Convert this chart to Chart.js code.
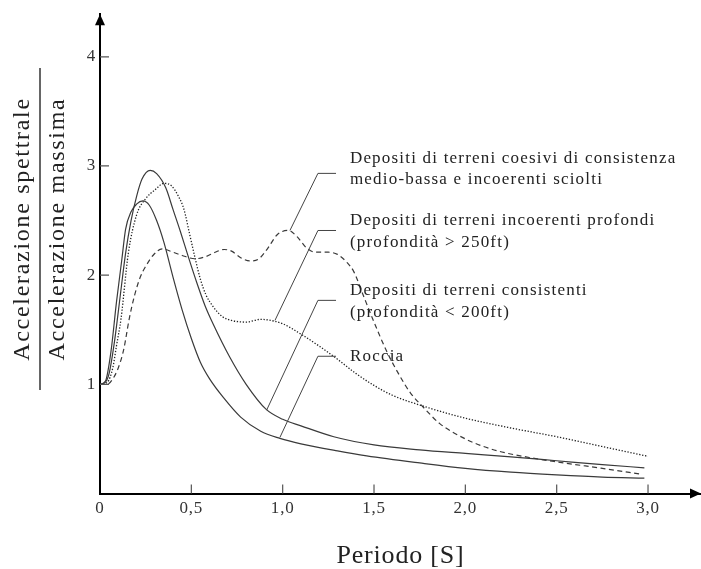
<!DOCTYPE html>
<html>
<head>
<meta charset="utf-8">
<script src="https://cdn.jsdelivr.net/npm/chart.js@4.4.1/dist/chart.umd.min.js"></script>
<style>
  html, body { margin: 0; padding: 0; background: #fff; }
</style>
</head>
<body>
<canvas id="spettro" width="701" height="569"></canvas>
<script>
// Valori: periodo [s] e accelerazione spettrale / accelerazione massima
const rocciaT  = [0, 0.03, 0.06, 0.09, 0.12, 0.14, 0.17, 0.2, 0.235, 0.27, 0.31, 0.35, 0.4, 0.45, 0.5, 0.55, 0.6, 0.675, 0.77, 0.88, 0.985, 1.1, 1.3, 1.46, 1.75, 2.0, 2.25, 2.5, 2.75, 2.98];
const rocciaSa = [1.0, 1.03, 1.3, 1.75, 2.15, 2.42, 2.58, 2.65, 2.68, 2.64, 2.5, 2.3, 1.98, 1.68, 1.42, 1.2, 1.05, 0.88, 0.7, 0.57, 0.505, 0.455, 0.39, 0.345, 0.28, 0.23, 0.195, 0.17, 0.15, 0.14];

const consistentiT  = [0, 0.03, 0.05, 0.08, 0.11, 0.14, 0.17, 0.2, 0.23, 0.275, 0.31, 0.36, 0.4, 0.44, 0.485, 0.53, 0.575, 0.62, 0.71, 0.8, 0.91, 1.0, 1.1, 1.28, 1.5, 1.75, 2.0, 2.25, 2.5, 2.75, 2.98];
const consistentiSa = [1.0, 1.02, 1.1, 1.4, 1.8, 2.2, 2.5, 2.72, 2.88, 2.96, 2.93, 2.8, 2.6, 2.4, 2.16, 1.93, 1.72, 1.55, 1.25, 1.0, 0.77, 0.68, 0.62, 0.52, 0.445, 0.4, 0.367, 0.335, 0.3, 0.265, 0.235];

const profondiT  = [0, 0.04, 0.07, 0.09, 0.115, 0.155, 0.2, 0.25, 0.3, 0.35, 0.39, 0.43, 0.46, 0.49, 0.52, 0.55, 0.58, 0.62, 0.67, 0.72, 0.8, 0.88, 0.95, 1.0, 1.1, 1.2, 1.3, 1.4, 1.5, 1.6, 1.77, 2.0, 2.25, 2.5, 2.75, 3.0];
const profondiSa = [1.0, 1.02, 1.15, 1.35, 1.6, 2.2, 2.55, 2.7, 2.78, 2.84, 2.82, 2.72, 2.6, 2.38, 2.16, 1.96, 1.82, 1.71, 1.62, 1.585, 1.57, 1.595, 1.58, 1.555, 1.46, 1.35, 1.23, 1.1, 0.99, 0.9, 0.8, 0.69, 0.6, 0.52, 0.43, 0.34];

const coesiviT  = [0, 0.04, 0.07, 0.1, 0.13, 0.16, 0.19, 0.22, 0.25, 0.29, 0.34, 0.4, 0.45, 0.52, 0.58, 0.63, 0.68, 0.72, 0.77, 0.82, 0.87, 0.92, 0.97, 1.03, 1.08, 1.13, 1.18, 1.25, 1.3, 1.35, 1.39, 1.44, 1.5, 1.57, 1.64, 1.7, 1.77, 1.86, 2.0, 2.1, 2.2, 2.35, 2.5, 2.75, 2.97];
const coesiviSa = [1.0, 1.0, 1.05, 1.15, 1.32, 1.6, 1.82, 1.98, 2.08, 2.18, 2.24, 2.21, 2.18, 2.15, 2.17, 2.21, 2.235, 2.22, 2.16, 2.13, 2.15, 2.25, 2.37, 2.41, 2.35, 2.25, 2.21, 2.21, 2.19, 2.12, 2.03, 1.82, 1.57, 1.3, 1.08, 0.92, 0.79, 0.64, 0.5, 0.43, 0.38, 0.33, 0.29, 0.23, 0.175];

// etichette dei tick
const xTickLabels = ['0', '0,5', '1,0', '1,5', '2,0', '2,5', '3,0'];
const yTickLabels = ['', '1', '2', '3', '4'];

const serif = '"Liberation Serif", "Times New Roman", serif';
const inkLine = '#3a3a3a';

// richiami con didascalia (coordinate nelle unità del grafico)
const richiami = [
  { righe: ['Depositi di terreni coesivi di consistenza', 'medio-bassa e incoerenti sciolti'], righeY: [3.064, 2.872], punto: [1.04, 2.41], gomitoY: 2.932 },
  { righe: ['Depositi di terreni incoerenti profondi', '(profondità > 250ft)'], righeY: [2.50, 2.302], punto: [0.958, 1.586], gomitoY: 2.409 },
  { righe: ['Depositi di terreni consistenti', '(profondità < 200ft)'], righeY: [1.86, 1.662], punto: [0.912, 0.763], gomitoY: 1.769 },
  { righe: ['Roccia'], righeY: [1.257], punto: [0.985, 0.514], gomitoY: 1.257 }
];
const gomitoX = 1.193, fineRichiamoX = 1.292, testoX = 1.368;

function toPoints(ts, vals) {
  return ts.map((t, i) => ({ x: t, y: vals[i] }));
}

const extras = {
  id: 'extras',
  beforeDraw(chart) {
    // spaziatura larga come nel disegno originale
    chart.ctx.letterSpacing = '0.8px';
  },
  afterDraw(chart) {
    const ctx = chart.ctx;
    const xs = chart.scales.x, ys = chart.scales.y;
    const area = chart.chartArea;
    ctx.save();

    // tick interni
    ctx.strokeStyle = '#555';
    ctx.lineWidth = 1.2;
    ctx.beginPath();
    xs.ticks.forEach(t => {
      if (t.value <= 0) return;
      const px = xs.getPixelForValue(t.value);
      ctx.moveTo(px, area.bottom);
      ctx.lineTo(px, area.bottom - 9);
    });
    ys.ticks.forEach(t => {
      if (t.value <= 0) return;
      const py = ys.getPixelForValue(t.value);
      ctx.moveTo(area.left, py);
      ctx.lineTo(area.left + 9, py);
    });
    ctx.stroke();

    // frecce degli assi
    ctx.fillStyle = '#000';
    ctx.beginPath();
    ctx.moveTo(area.left, area.top);
    ctx.lineTo(area.left - 5, area.top + 11);
    ctx.lineTo(area.left + 5, area.top + 11);
    ctx.closePath();
    ctx.fill();
    ctx.beginPath();
    ctx.moveTo(area.right, area.bottom);
    ctx.lineTo(area.right - 11, area.bottom - 5);
    ctx.lineTo(area.right - 11, area.bottom + 5);
    ctx.closePath();
    ctx.fill();

    // richiami
    ctx.strokeStyle = '#444';
    ctx.lineWidth = 1;
    ctx.fillStyle = '#222';
    ctx.font = '17px ' + serif;
    ctx.letterSpacing = '1.2px';
    ctx.textBaseline = 'middle';
    ctx.textAlign = 'left';
    richiami.forEach(r => {
      const gy = ys.getPixelForValue(r.gomitoY);
      ctx.beginPath();
      ctx.moveTo(xs.getPixelForValue(r.punto[0]), ys.getPixelForValue(r.punto[1]));
      ctx.lineTo(xs.getPixelForValue(gomitoX), gy);
      ctx.lineTo(xs.getPixelForValue(fineRichiamoX), gy);
      ctx.stroke();
      r.righe.forEach((riga, i) => {
        ctx.fillText(riga, xs.getPixelForValue(testoX), ys.getPixelForValue(r.righeY[i]));
      });
    });

    // titolo asse y come frazione
    ctx.translate(0, 229);
    ctx.rotate(-Math.PI / 2);
    ctx.font = '24px ' + serif;
    ctx.letterSpacing = '1.7px';
    ctx.textAlign = 'center';
    ctx.fillStyle = '#222';
    ctx.fillText('Accelerazione spettrale', 0, 23);
    ctx.fillText('Accelerazione massima', 0, 58);
    ctx.strokeStyle = '#333';
    ctx.lineWidth = 1.5;
    ctx.beginPath();
    ctx.moveTo(-161, 40);
    ctx.lineTo(161, 40);
    ctx.stroke();

    ctx.restore();
  }
};

const curveStyle = { borderColor: inkLine, borderWidth: 1.2, pointRadius: 0, fill: false, cubicInterpolationMode: 'monotone' };

new Chart(document.getElementById('spettro'), {
  type: 'line',
  data: {
    datasets: [
      Object.assign({ label: 'Roccia', data: toPoints(rocciaT, rocciaSa) }, curveStyle),
      Object.assign({ label: 'Depositi di terreni consistenti', data: toPoints(consistentiT, consistentiSa) }, curveStyle),
      Object.assign({ label: 'Depositi di terreni incoerenti profondi', data: toPoints(profondiT, profondiSa) }, curveStyle, { borderDash: [1.3, 1.7], borderWidth: 1.3, borderColor: '#222' }),
      Object.assign({ label: 'Depositi di terreni coesivi', data: toPoints(coesiviT, coesiviSa) }, curveStyle, { borderDash: [5, 3.5] })
    ]
  },
  options: {
    responsive: false,
    animation: false,
    devicePixelRatio: 1,
    layout: { padding: { top: 13, right: 0, left: 0, bottom: 0 } },
    plugins: { legend: { display: false }, tooltip: { enabled: false } },
    scales: {
      x: {
        type: 'linear',
        min: 0,
        max: 3.29,
        grid: { display: false, drawTicks: false },
        border: { display: true, color: '#000', width: 2 },
        ticks: {
          stepSize: 0.5,
          includeBounds: false,
          maxRotation: 0,
          padding: 5,
          color: '#333',
          font: { family: serif, size: 17 },
          callback: (v) => xTickLabels[Math.round(v * 2)]
        },
        title: {
          display: true,
          text: 'Periodo [S]',
          color: '#222',
          font: { family: serif, size: 26, lineHeight: 1 },
          padding: { top: 0, bottom: 0 }
        },
        afterFit(scale) { scale.height = 569 - 493.5; }
      },
      y: {
        min: 0,
        max: 4.39,
        grid: { display: false, drawTicks: false },
        border: { display: true, color: '#000', width: 2 },
        ticks: {
          stepSize: 1,
          includeBounds: false,
          padding: 4,
          color: '#333',
          font: { family: serif, size: 17 },
          callback: (v) => yTickLabels[v]
        },
        afterFit(scale) { scale.width = 100; }
      }
    }
  },
  plugins: [extras]
});
</script>
</body>
</html>
